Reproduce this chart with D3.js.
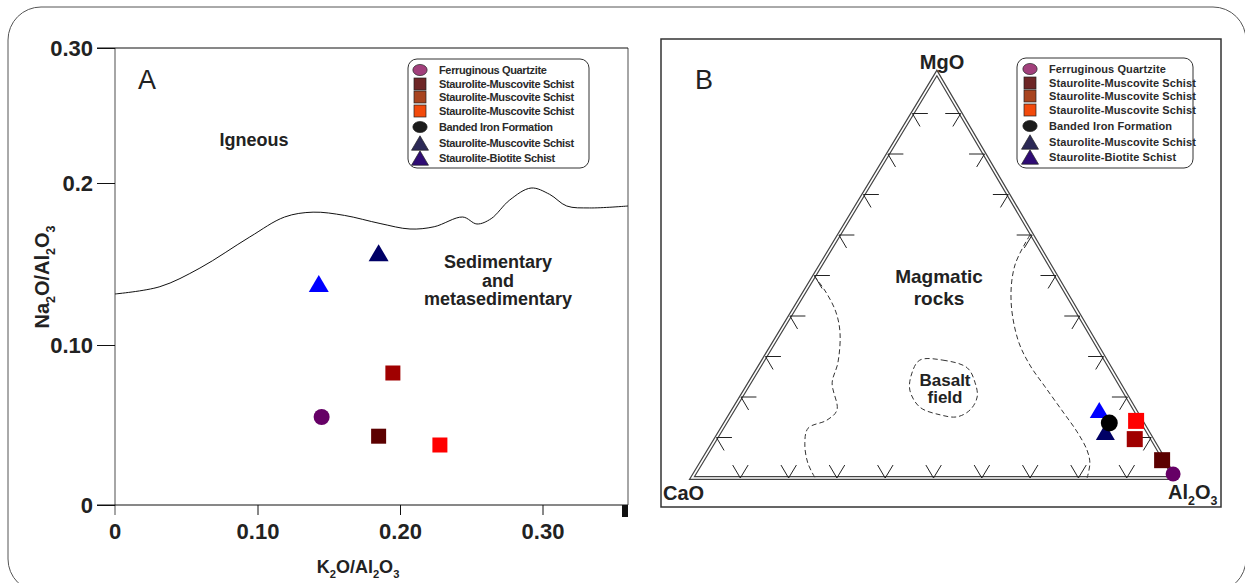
<!DOCTYPE html>
<html>
<head>
<meta charset="utf-8">
<script src="https://cdn.jsdelivr.net/npm/d3@7/dist/d3.min.js"></script>
<style>
body { margin: 0; background: #fff; }
svg { font-family: "Liberation Sans", Arial, sans-serif; }
</style>
</head>
<body>
<div id="chart"></div>
<script>
// ---- data ----
var sampleNames = ["Ferruginous Quartzite", "Staurolite-Muscovite Schist", "Staurolite-Muscovite Schist",
    "Staurolite-Muscovite Schist", "Banded Iron Formation", "Staurolite-Muscovite Schist", "Staurolite-Biotite Schist"];
var sampleShapes = ["circle", "square", "square", "square", "circle", "triangle", "triangle"];
var legendColors = ["#a2407c", "#6e2626", "#a8441f", "#f24a0c", "#1c1c1c", "#2c2956", "#2f0c74"];
var markColors = ["#660066", "#5c0000", "#a00000", "#ff0000", "#000000", "#000066", "#0000ff"];

// panel A: K2O/Al2O3 vs Na2O/Al2O3 (no BIF point)
var aK2O = [0.145, 0.185, 0.195, 0.228, null, 0.185, 0.143];
var aNa2O = [0.055, 0.043, 0.0825, 0.0375, null, 0.157, 0.138];
var xTicks = [0, 0.1, 0.2, 0.3], xTickLabels = ["0", "0.10", "0.20", "0.30"];
var yTicks = [0, 0.1, 0.2, 0.3], yTickLabels = ["0", "0.10", "0.2", "0.30"];
var boundK2O = [0, 0.0315, 0.0596, 0.0946, 0.119, 0.139, 0.161, 0.186, 0.207, 0.224, 0.244, 0.254, 0.264, 0.277, 0.292, 0.305, 0.317, 0.333, 0.36];
var boundNa2O = [0.1315, 0.136, 0.1475, 0.1667, 0.179, 0.182, 0.180, 0.175, 0.1716, 0.173, 0.179, 0.1747, 0.178, 0.1895, 0.1969, 0.193, 0.1858, 0.1846, 0.1858];

// panel B: ternary CaO - MgO - Al2O3 (fractions, CaO = 1 - MgO - Al2O3)
var bMgO = [0.010, 0.044, 0.096, 0.141, 0.136, 0.114, 0.168];
var bAl2O3 = [0.991, 0.951, 0.868, 0.848, 0.795, 0.798, 0.758];
var drawOrder = [5, 6, 2, 3, 1, 4, 0];
var leftFieldMgO = [0.499, 0.459, 0.410, 0.358, 0.284, 0.235, 0.168, 0.143, 0.123, 0.086, 0.037, 0];
var leftFieldAl2O3 = [0, 0.0445, 0.090, 0.125, 0.158, 0.171, 0.215, 0.207, 0.178, 0.190, 0.221, 0.255];
var rightFieldMgO = [0.6, 0.526, 0.4395, 0.341, 0.279, 0.225, 0.163, 0.114, 0.069, 0.037, 0];
var rightFieldAl2O3 = [0.3956, 0.402, 0.4377, 0.502, 0.558, 0.617, 0.6856, 0.7395, 0.7828, 0.805, 0.818];
var basaltMgO = [0.291, 0.291, 0.272, 0.235, 0.2, 0.168, 0.151, 0.156, 0.175, 0.217, 0.259];
var basaltAl2O3 = [0.324, 0.372, 0.432, 0.467, 0.489, 0.4905, 0.472, 0.4346, 0.383, 0.341, 0.324];
var ternTicks = [0.1, 0.2, 0.3, 0.4, 0.5, 0.6, 0.7, 0.8, 0.9];

var width = 1245, height = 583;
var svg = d3.select("#chart").append("svg")
    .attr("width", width).attr("height", height);

// outer rounded frame
svg.append("rect").attr("x", 8).attr("y", 7).attr("width", 1238).attr("height", 585)
    .attr("rx", 33).attr("fill", "none").attr("stroke", "#555").attr("stroke-width", 1);

// subscript text helper: parts = [text, isSub]
function chem(sel, parts, size) {
    parts.forEach(function(p, i) {
        var prev = i > 0 && parts[i - 1][1];
        var dy = p[1] ? size * 0.3 : (prev ? -size * 0.3 : 0);
        sel.append("tspan").attr("dy", dy)
            .style("font-size", p[1] ? (size * 0.62) + "px" : size + "px")
            .text(p[0]);
    });
}

function symbol(g, shape, cx, cy, s, fill, stroke) {
    if (shape == "circle") {
        g.append("circle").attr("cx", cx).attr("cy", cy).attr("r", s / 2).attr("fill", fill);
    } else if (shape == "ellipse") {
        g.append("ellipse").attr("cx", cx).attr("cy", cy).attr("rx", s * 0.55).attr("ry", s * 0.43)
            .attr("fill", fill).attr("stroke", stroke).attr("stroke-width", 0.7);
    } else if (shape == "square") {
        g.append("rect").attr("x", cx - s / 2).attr("y", cy - s / 2).attr("width", s).attr("height", s)
            .attr("fill", fill).attr("stroke", stroke).attr("stroke-width", 0.7);
    } else {
        var h = s * 0.85;
        g.append("path").attr("d", "M" + cx + "," + (cy - h / 2) + "L" + (cx + s / 2) + "," + (cy + h / 2) + "L" + (cx - s / 2) + "," + (cy + h / 2) + "Z")
            .attr("fill", fill).attr("stroke", stroke).attr("stroke-width", 0.7);
    }
}

function legend(x, y, w, h, textX, symX, spacing) {
    var g = svg.append("g");
    g.append("rect").attr("x", x).attr("y", y).attr("width", w).attr("height", h).attr("rx", 9)
        .attr("fill", "#fff").attr("stroke", "#333").attr("stroke-width", 1);
    var rowY = [11, 25, 38, 52, 68, 84, 99];
    sampleNames.forEach(function(name, i) {
        var cy = y + rowY[i];
        var shp = sampleShapes[i] == "circle" ? "ellipse" : sampleShapes[i];
        symbol(g, shp, symX, cy, shp == "triangle" ? 17 : (shp == "square" ? 12 : 13), legendColors[i], "#222");
        g.append("text").attr("x", textX).attr("y", cy + 4)
            .style("font-size", "11px").style("font-weight", "bold").style("letter-spacing", spacing)
            .attr("fill", "#2a2a2a").text(name);
    });
}

// ================= Panel A =================
var xA = d3.scaleLinear().domain([0, 0.36]).range([115, 628]);
var yA = d3.scaleLinear().domain(yTicks).range([505, 345, 183, 48]);
var gA = svg.append("g");

gA.append("line").attr("x1", xA(0)).attr("x2", xA(0)).attr("y1", yA(0.3)).attr("y2", yA(0) + 10)
    .attr("stroke", "#888").attr("stroke-width", 1.5);
gA.append("line").attr("x1", xA(0.36)).attr("x2", xA(0.36)).attr("y1", yA(0.3)).attr("y2", yA(0))
    .attr("stroke", "#888").attr("stroke-width", 1.5);
gA.append("line").attr("x1", 97).attr("x2", xA(0.36)).attr("y1", yA(0.3)).attr("y2", yA(0.3))
    .attr("stroke", "#111").attr("stroke-width", 1);
gA.append("line").attr("x1", 97).attr("x2", xA(0.36)).attr("y1", yA(0)).attr("y2", yA(0))
    .attr("stroke", "#111").attr("stroke-width", 1);
gA.append("rect").attr("x", xA(0.36) - 6).attr("y", yA(0)).attr("width", 6).attr("height", 12).attr("fill", "#111");

var xAxis = gA.append("g").attr("transform", "translate(0," + yA(0) + ")")
    .call(d3.axisBottom(xA).tickValues(xTicks.slice(1)).tickSize(10).tickPadding(8)
        .tickFormat(function(d) { return xTickLabels[xTicks.indexOf(d)]; }));
xAxis.select(".domain").remove();
gA.append("text").attr("x", xA(0)).attr("y", yA(0) + 34).attr("text-anchor", "middle")
    .style("font-size", "22px").style("font-weight", "bold").attr("fill", "#222").text(xTickLabels[0]);

var yAxis = gA.append("g").attr("transform", "translate(" + xA(0) + ",0)")
    .call(d3.axisLeft(yA).tickValues(yTicks).tickSize(18).tickPadding(4)
        .tickFormat(function(d, i) { return yTickLabels[i]; }));
yAxis.select(".domain").remove();
[xAxis, yAxis].forEach(function(ax) {
    ax.selectAll("text").style("font-size", "22px").style("font-weight", "bold").attr("fill", "#222")
        .style("font-family", "'Liberation Sans', Arial, sans-serif");
    ax.selectAll("line").attr("stroke", "#111");
});
yAxis.selectAll(".tick text").attr("dy", "0.36em");

var boundLine = d3.line().curve(d3.curveCatmullRom.alpha(0.5))
    .x(function(d) { return xA(d[0]); }).y(function(d) { return yA(d[1]); });
gA.append("path").datum(d3.zip(boundK2O, boundNa2O)).attr("d", boundLine)
    .attr("fill", "none").attr("stroke", "#111").attr("stroke-width", 1);

drawOrder.forEach(function(i) {
    if (aK2O[i] == null) return;
    var s = sampleShapes[i] == "triangle" ? 20 : (sampleShapes[i] == "square" ? 15 : 16);
    symbol(gA, sampleShapes[i], xA(aK2O[i]), yA(aNa2O[i]), s, markColors[i], "none");
});

gA.append("text").attr("x", 138).attr("y", 89).style("font-size", "27px").attr("fill", "#222").text("A");
gA.append("text").attr("x", 254).attr("y", 146).attr("text-anchor", "middle")
    .style("font-size", "18px").style("font-weight", "bold").attr("fill", "#222").text("Igneous");
["Sedimentary", "and", "metasedimentary"].forEach(function(t, i) {
    gA.append("text").attr("x", 498).attr("y", 268 + i * 18.5).attr("text-anchor", "middle")
        .style("font-size", "18px").style("font-weight", "bold").attr("fill", "#222").text(t);
});

var xt = gA.append("text").attr("x", 358).attr("y", 573).attr("text-anchor", "middle")
    .style("font-weight", "bold").attr("fill", "#222");
chem(xt, [["K", 0], ["2", 1], ["O/Al", 0], ["2", 1], ["O", 0], ["3", 1]], 18);
var yt = gA.append("text").attr("transform", "translate(49,277) rotate(-90)").attr("text-anchor", "middle")
    .style("font-weight", "bold").attr("fill", "#222");
chem(yt, [["Na", 0], ["2", 1], ["O/Al", 0], ["2", 1], ["O", 0], ["3", 1]], 20);

legend(408, 59, 181, 109, 439, 420, "-0.35px");

// ================= Panel B =================
var gB = svg.append("g");
gB.append("rect").attr("x", 661).attr("y", 39).attr("width", 560).attr("height", 468)
    .attr("fill", "none").attr("stroke", "#333").attr("stroke-width", 1.5);

var apexShift = 0.507;
var tx = d3.scaleLinear().domain([0, 1]).range([692, 1175]);
var ty = d3.scaleLinear().domain([0, 1]).range([478, 73]);
function tern(al, mg) { return [tx(al + mg * apexShift), ty(mg)]; }

var tri = [tern(0, 0), tern(1, 0), tern(0, 1)];
var triPath = "M" + tri.join("L") + "Z";
gB.append("path").attr("d", triPath).attr("fill", "none").attr("stroke", "#444").attr("stroke-width", 4)
    .attr("stroke-linejoin", "miter");
gB.append("path").attr("d", triPath).attr("fill", "none").attr("stroke", "#fff").attr("stroke-width", 1.6);

// ternary ticks
var L = 0.032;
var tickSegs = [];
ternTicks.forEach(function(t) {
    // left edge (Al2O3 = 0)
    tickSegs.push([tern(0, t), tern(L, t)]);
    tickSegs.push([tern(0, t), tern(L, t - L)]);
    // bottom edge (MgO = 0)
    tickSegs.push([tern(t, 0), tern(t, L)]);
    tickSegs.push([tern(t, 0), tern(t - L, L)]);
    // right edge (CaO = 0)
    tickSegs.push([tern(1 - t, t), tern(1 - t - L, t)]);
    tickSegs.push([tern(1 - t, t), tern(1 - t, t - L)]);
});
gB.selectAll(".ttick").data(tickSegs).enter().append("line").attr("class", "ttick")
    .attr("x1", function(d) { return d[0][0]; }).attr("y1", function(d) { return d[0][1]; })
    .attr("x2", function(d) { return d[1][0]; }).attr("y2", function(d) { return d[1][1]; })
    .attr("stroke", "#222").attr("stroke-width", 1);

var ternLine = d3.line().curve(d3.curveCatmullRom.alpha(0.5))
    .x(function(d) { return tern(d[1], d[0])[0]; }).y(function(d) { return tern(d[1], d[0])[1]; });
var ternLoop = d3.line().curve(d3.curveCatmullRomClosed.alpha(0.5))
    .x(function(d) { return tern(d[1], d[0])[0]; }).y(function(d) { return tern(d[1], d[0])[1]; });
[d3.zip(leftFieldMgO, leftFieldAl2O3), d3.zip(rightFieldMgO, rightFieldAl2O3)].forEach(function(pts) {
    gB.append("path").datum(pts).attr("d", ternLine).attr("fill", "none")
        .attr("stroke", "#333").attr("stroke-width", 1).attr("stroke-dasharray", "5,3");
});
gB.append("path").datum(d3.zip(basaltMgO, basaltAl2O3)).attr("d", ternLoop).attr("fill", "none")
    .attr("stroke", "#333").attr("stroke-width", 1).attr("stroke-dasharray", "5,3");

drawOrder.forEach(function(i) {
    var p = tern(bAl2O3[i], bMgO[i]);
    var s = sampleShapes[i] == "triangle" ? 19 : (sampleShapes[i] == "square" ? 16 : (i == 4 ? 17 : 15));
    symbol(gB, sampleShapes[i], p[0], p[1], s, markColors[i], "none");
});

gB.append("text").attr("x", 695).attr("y", 89).style("font-size", "27px").attr("fill", "#222").text("B");
function bold(t, x, y, size, anchor) {
    gB.append("text").attr("x", x).attr("y", y).attr("text-anchor", anchor || "middle")
        .style("font-size", size + "px").style("font-weight", "bold").attr("fill", "#222").text(t);
}
bold("MgO", 942, 69, 20);
bold("CaO", 663, 500, 20, "start");
bold("Magmatic", 939, 283, 19);
bold("rocks", 939, 305, 19);
bold("Basalt", 945, 386, 17);
bold("field", 945, 403, 17);
var al = gB.append("text").attr("x", 1168).attr("y", 499).style("font-weight", "bold").attr("fill", "#222");
chem(al, [["Al", 0], ["2", 1], ["O", 0], ["3", 1]], 20);

legend(1017, 58, 176, 110, 1049, 1030, "0.1px");
</script>
</body>
</html>
